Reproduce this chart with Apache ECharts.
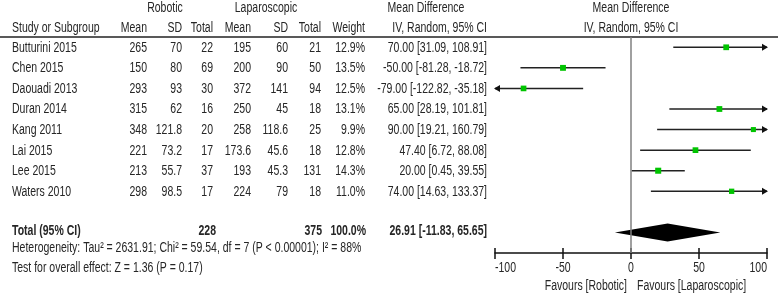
<!DOCTYPE html>
<html>
<head>
<meta charset="utf-8">
<script src="https://cdn.jsdelivr.net/npm/echarts@6/dist/echarts.min.js"></script>
<style>
html, body { margin: 0; padding: 0; background: #fff; }
#forest { width: 778px; height: 295px; }
</style>
</head>
<body>
<div id="forest"></div>
<script>
var studies = ['Butturini 2015', 'Chen 2015', 'Daouadi 2013', 'Duran 2014', 'Kang 2011', 'Lai 2015', 'Lee 2015', 'Waters 2010'];
var robMean = [265, 150, 293, 315, 348, 221, 213, 298];
var robSD = [70, 80, 93, 62, 121.8, 73.2, 55.7, 98.5];
var robTotal = [22, 69, 30, 16, 20, 17, 37, 17];
var lapMean = [195, 200, 372, 250, 258, 173.6, 193, 224];
var lapSD = [60, 90, 141, 45, 118.6, 45.6, 45.3, 79];
var lapTotal = [21, 50, 94, 18, 25, 18, 131, 18];
var weights = [12.9, 13.5, 12.5, 13.1, 9.9, 12.8, 14.3, 11.0];
var md = [70.00, -50.00, -79.00, 65.00, 90.00, 47.40, 20.00, 74.00];
var ciLow = [31.09, -81.28, -122.82, 28.19, 19.21, 6.72, 0.45, 14.63];
var ciHigh = [108.91, -18.72, -35.18, 101.81, 160.79, 88.08, 39.55, 133.37];
var totalRob = 228, totalLap = 375, totalWeight = 100.0;
var totalMd = 26.91, totalLow = -11.83, totalHigh = 65.65;
var xTicks = [-100, -50, 0, 50, 100];
var totalRow = 9;

// no narrow font installed, so squeeze Liberation Sans like Arial Narrow
var FONT = "'Liberation Sans', Arial, sans-serif";
var NARROW = 0.75;
var TXT = '#262626';
var XMIN = -100, XMAX = 100;

var studyData = [];
for (var i = 0; i < studies.length; i++) {
	studyData.push([i, ciLow[i], ciHigh[i], md[i], weights[i]]);
}

function arrow(x, y, dir) {
	return {
		type : 'polygon',
		shape : { points : [ [x + dir * 1, y], [x - dir * 5, y - 3.5], [x - dir * 5, y + 3.5] ] },
		style : { fill : '#111' }
	};
}

function renderStudy(params, api) {
	var row = api.value(0), lo = api.value(1), hi = api.value(2), m = api.value(3), w = api.value(4);
	var p1 = api.coord([Math.max(lo, XMIN), row]);
	var p2 = api.coord([Math.min(hi, XMAX), row]);
	var pm = api.coord([m, row]);
	var kids = [{
		type : 'line',
		shape : { x1 : p1[0], y1 : p1[1], x2 : p2[0], y2 : p2[1] },
		style : { stroke : '#222', lineWidth : 1.5 }
	}];
	if (hi > XMAX) kids.push(arrow(p2[0], p2[1], 1));
	if (lo < XMIN) kids.push(arrow(p1[0], p1[1], -1));
	var s = 1.6 * Math.sqrt(w);
	kids.push({
		type : 'rect',
		shape : { x : pm[0] - s / 2, y : pm[1] - s / 2, width : s, height : s },
		style : { fill : '#00c400' }
	});
	return { type : 'group', children : kids };
}

function renderDiamond(params, api) {
	var row = api.value(0);
	var a = api.coord([api.value(1), row]);
	var b = api.coord([api.value(2), row]);
	var c = api.coord([api.value(3), row]);
	return {
		type : 'polygon',
		shape : { points : [ [a[0], a[1]], [c[0], c[1] - 9], [b[0], b[1]], [c[0], c[1] + 9] ] },
		style : { fill : '#000' }
	};
}

var chart = echarts.init(document.getElementById('forest'));

chart.setOption({
	animation : false,
	grid : { left : 495, right : 11, top : 37, bottom : 42 },
	xAxis : [ {
		type : 'value', min : XMIN, max : XMAX, interval : 50,
		splitLine : { show : false },
		axisLine : { onZero : false, lineStyle : { color : '#111', width : 1.5 } },
		axisTick : { length : 6, lineStyle : { color : '#111', width : 1.5 } },
		axisLabel : { show : false }
	}, {
		type : 'value', min : XMIN, max : XMAX, interval : 50, position : 'bottom',
		splitLine : { show : false },
		axisLine : { show : false, onZero : false },
		axisTick : { inside : true, length : 5, lineStyle : { color : '#111', width : 1.5 } },
		axisLabel : { show : false }
	} ],
	yAxis : { type : 'value', inverse : true, min : -0.5, max : 10, show : false },
	series : [ {
		type : 'line',
		data : [ [0, -0.5], [0, 10] ],
		symbol : 'none',
		lineStyle : { color : '#808080', width : 1.5 },
		silent : true
	}, {
		type : 'custom',
		renderItem : renderStudy,
		encode : { x : [1, 2, 3], y : 0 },
		data : studyData
	}, {
		type : 'custom',
		renderItem : renderDiamond,
		encode : { x : [1, 2, 3], y : 0 },
		data : [ [totalRow, totalLow, totalHigh, totalMd] ]
	} ]
});

// table text, placed on the same row scale as the plot
function txt(x, y, s, align, bold) {
	return {
		type : 'text', x : x, y : y, scaleX : NARROW, silent : true,
		style : { text : s, fill : TXT, font : (bold ? 'bold ' : '') + '14px ' + FONT,
			textAlign : align || 'left', textVerticalAlign : 'middle' }
	};
}
function ci(m, lo, hi) {
	return m.toFixed(2) + ' [' + lo.toFixed(2) + ', ' + hi.toFixed(2) + ']';
}

var g = [];
g.push({ type : 'line', shape : { x1 : 0, y1 : 37, x2 : 778, y2 : 37 }, style : { stroke : '#222', lineWidth : 1.5 }, silent : true });

g.push(txt(165, 8, 'Robotic', 'center'));
g.push(txt(266, 8, 'Laparoscopic', 'center'));
g.push(txt(426, 8, 'Mean Difference', 'center'));
g.push(txt(631, 8, 'Mean Difference', 'center'));
g.push(txt(12, 28, 'Study or Subgroup'));
g.push(txt(147, 28, 'Mean', 'right'));
g.push(txt(182, 28, 'SD', 'right'));
g.push(txt(213, 28, 'Total', 'right'));
g.push(txt(251, 28, 'Mean', 'right'));
g.push(txt(288, 28, 'SD', 'right'));
g.push(txt(321, 28, 'Total', 'right'));
g.push(txt(365, 28, 'Weight', 'right'));
g.push(txt(487, 28, 'IV, Random, 95% CI', 'right'));
g.push(txt(631, 28, 'IV, Random, 95% CI', 'center'));

for (var r = 0; r < studies.length; r++) {
	var y = chart.convertToPixel({ yAxisIndex : 0 }, r) + 0.5;
	g.push(txt(12, y, studies[r]));
	g.push(txt(147, y, String(robMean[r]), 'right'));
	g.push(txt(182, y, String(robSD[r]), 'right'));
	g.push(txt(213, y, String(robTotal[r]), 'right'));
	g.push(txt(251, y, String(lapMean[r]), 'right'));
	g.push(txt(288, y, String(lapSD[r]), 'right'));
	g.push(txt(321, y, String(lapTotal[r]), 'right'));
	g.push(txt(365, y, weights[r].toFixed(1) + '%', 'right'));
	g.push(txt(487, y, ci(md[r], ciLow[r], ciHigh[r]), 'right'));
}

var ty = chart.convertToPixel({ yAxisIndex : 0 }, totalRow) - 1;
g.push(txt(12, ty, 'Total (95% CI)', 'left', true));
g.push(txt(216, ty, String(totalRob), 'right', true));
g.push(txt(322, ty, String(totalLap), 'right', true));
g.push(txt(366, ty, totalWeight.toFixed(1) + '%', 'right', true));
g.push(txt(487, ty, ci(totalMd, totalLow, totalHigh), 'right', true));

g.push(txt(12, 248, 'Heterogeneity: Tau\u00b2 = 2631.91; Chi\u00b2 = 59.54, df = 7 (P < 0.00001); I\u00b2 = 88%'));
g.push(txt(12, 268, 'Test for overall effect: Z = 1.36 (P = 0.17)'));

// tick labels: end labels sit inside the axis ends, the rest are centred
var axisY = chart.convertToPixel({ yAxisIndex : 0 }, 10);
xTicks.forEach(function(v, k) {
	var al = k === 0 ? 'left' : (k === xTicks.length - 1 ? 'right' : 'center');
	g.push(txt(chart.convertToPixel({ xAxisIndex : 0 }, v), axisY + 15, String(v), al));
});

var x0 = chart.convertToPixel({ xAxisIndex : 0 }, 0);
g.push(txt(x0 - 4, 286, 'Favours [Robotic]', 'right'));
g.push(txt(x0 + 6, 286, 'Favours [Laparoscopic]', 'left'));

chart.setOption({ graphic : g });
</script>
</body>
</html>
